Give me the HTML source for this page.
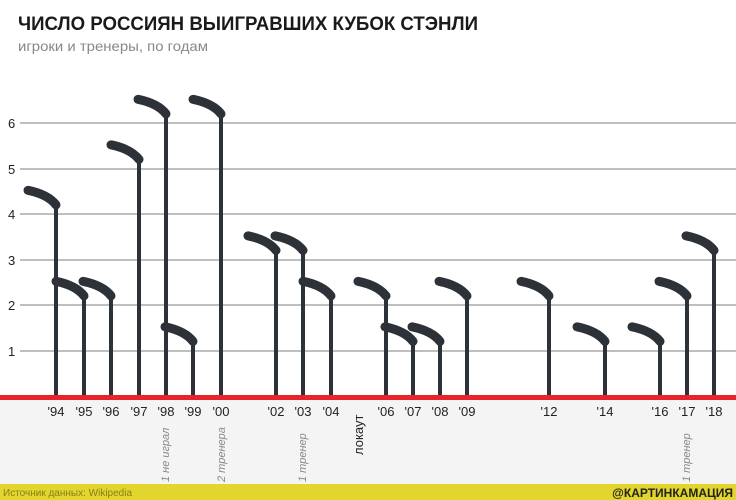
<!DOCTYPE html>
<html><head><meta charset="utf-8"><style>
body{margin:0;background:#fff}
svg{display:block}
text{font-family:"Liberation Sans","DejaVu Sans",sans-serif}
</style></head><body>
<svg width="736" height="500" viewBox="0 0 736 500" xmlns="http://www.w3.org/2000/svg">
<rect width="736" height="500" fill="#fff"/>
<rect x="0" y="400" width="736" height="84" fill="#f4f4f4"/>
<text x="18" y="30" font-size="19.5" font-weight="bold" fill="#1a1a1a" textLength="460" lengthAdjust="spacingAndGlyphs">ЧИСЛО РОССИЯН ВЫИГРАВШИХ КУБОК СТЭНЛИ</text>
<text x="18" y="51" font-size="14" fill="#888" textLength="190" lengthAdjust="spacingAndGlyphs">игроки и тренеры, по годам</text>
<g stroke="#999" stroke-width="1.2">
<line x1="20" y1="123" x2="736" y2="123"/><line x1="20" y1="169" x2="736" y2="169"/>
<line x1="20" y1="214" x2="736" y2="214"/><line x1="20" y1="260" x2="736" y2="260"/>
<line x1="20" y1="305" x2="736" y2="305"/><line x1="20" y1="351" x2="736" y2="351"/>
</g>
<g font-size="13" fill="#222">
<text x="8" y="128">6</text><text x="8" y="174">5</text><text x="8" y="219">4</text>
<text x="8" y="265">3</text><text x="8" y="310">2</text><text x="8" y="356">1</text>
</g>
<g id="sticks" stroke="#2d3138" fill="none" stroke-linecap="round"></g>
<rect x="0" y="395" width="736" height="5" fill="#e8242a"/>
<g font-size="13" fill="#222" text-anchor="middle">
<text x="56" y="416">'94</text><text x="84" y="416">'95</text><text x="111" y="416">'96</text>
<text x="139" y="416">'97</text><text x="166" y="416">'98</text><text x="193" y="416">'99</text>
<text x="221" y="416">'00</text><text x="276" y="416">'02</text><text x="303" y="416">'03</text>
<text x="331" y="416">'04</text><text x="386" y="416">'06</text><text x="413" y="416">'07</text>
<text x="440" y="416">'08</text><text x="467" y="416">'09</text><text x="549" y="416">'12</text>
<text x="605" y="416">'14</text><text x="660" y="416">'16</text><text x="687" y="416">'17</text>
<text x="714" y="416">'18</text>
</g>
<text transform="translate(363,455) rotate(-90)" font-size="13" fill="#222">локаут</text>
<g font-size="11" fill="#888" font-style="italic">
<text transform="translate(169,482) rotate(-90)">1 не играл</text>
<text transform="translate(225,482) rotate(-90)">2 тренера</text>
<text transform="translate(306,482) rotate(-90)">1 тренер</text>
<text transform="translate(690,482) rotate(-90)">1 тренер</text>
</g>
<rect x="0" y="484" width="736" height="16" fill="#e2d52c"/>
<text x="3" y="496" font-size="10" fill="#8a7d20">Источник данных: Wikipedia</text>
<text x="733" y="497" font-size="12" font-weight="bold" fill="#222" text-anchor="end">@КАРТИНКАМАЦИЯ</text>
</svg>
<script>
var d=[[56,4],[84,2],[111,2],[139,5],[166,6],[193,1],[221,6],[276,3],[303,3],[331,2],[386,2],[413,1],[440,1],[467,2],[549,2],[605,1],[660,1],[687,2],[714,3]];
var g=document.getElementById('sticks'),s='';
function y(v){return 396-v*45.5;}
d.forEach(function(p){var x=p[0],v=p[1];
s+='<line x1="'+x+'" y1="396" x2="'+x+'" y2="'+y(v+0.2)+'" stroke-width="4" stroke-linecap="butt"/>';
s+='<path d="M'+x+' '+y(v+0.2)+' Q'+(x-8)+' '+y(v+0.43)+' '+(x-28)+' '+y(v+0.52)+'" stroke-width="9"/>';});
g.innerHTML=s;
</script>
</body></html>
